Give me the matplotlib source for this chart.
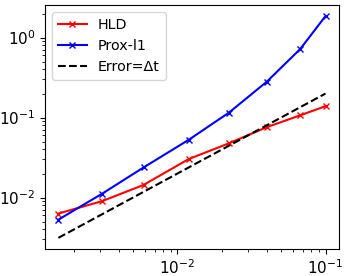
import numpy as np
import matplotlib
matplotlib.use("Agg")
import matplotlib.pyplot as plt

# step sizes
dt = [0.00157, 0.0031, 0.0059, 0.0119, 0.0223, 0.0402, 0.0676, 0.1]
err_hld = [0.00632, 0.00904, 0.0144, 0.0303, 0.0478, 0.0761, 0.107, 0.139]
err_prox = [0.0053, 0.0112, 0.0238, 0.0527, 0.1156, 0.282, 0.723, 1.86]
ref = [2 * d for d in dt]

plt.rcParams['font.size'] = 11

fig = plt.figure(figsize=(3.49, 2.76), dpi=100)
ax = fig.add_axes([0.129, 0.098, 0.842, 0.884])
ax.loglog(dt, err_hld, 'r-x', ms=5, label='HLD')
ax.loglog(dt, err_prox, 'b-x', ms=5, label='Prox-l1')
ax.loglog(dt, ref, 'k--', label='Error=Δt')
ax.legend(loc='upper left', fontsize=10.3)
fig.savefig('out.png', dpi=100)
